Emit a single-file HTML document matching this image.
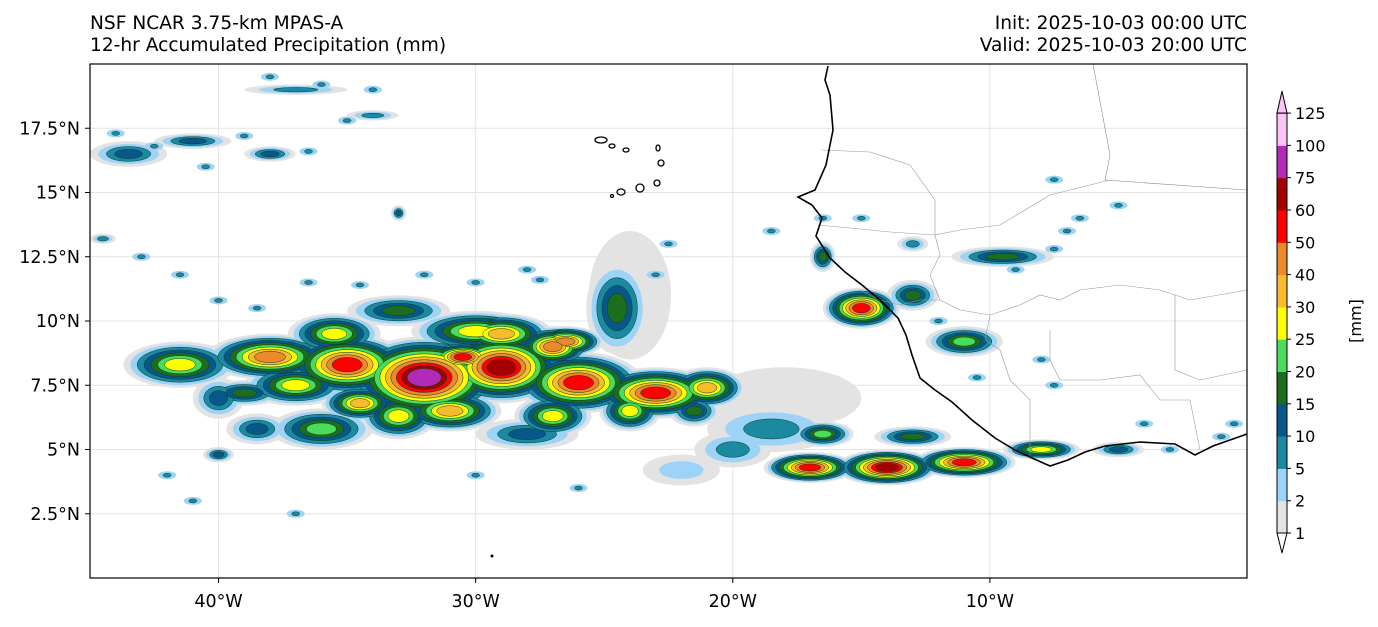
<!DOCTYPE html>
<html><head><meta charset="utf-8"><style>
body{margin:0;background:#fff;width:1378px;height:623px;overflow:hidden;font-family:"DejaVu Sans",sans-serif}
svg text{font-family:"DejaVu Sans","Liberation Sans",sans-serif;fill:#000}
</style></head><body>
<svg id="c" width="1378" height="623">
<text x="90" y="29" font-size="18.6">NSF NCAR 3.75-km MPAS-A</text>
<text x="90" y="51" font-size="18.6">12-hr Accumulated Precipitation (mm)</text>
<text x="1247" y="29" font-size="18.6" text-anchor="end">Init: 2025-10-03 00:00 UTC</text>
<text x="1247" y="51" font-size="18.6" text-anchor="end">Valid: 2025-10-03 20:00 UTC</text>
<defs><clipPath id="cp"><rect x="90" y="64" width="1157" height="514"/></clipPath></defs>
<g id="grid"></g>
<g id="precip" clip-path="url(#cp)"></g>
<g clip-path="url(#cp)">
<polyline fill="none" stroke="#888" stroke-width="0.6" points="1093,64 1110,155 1105,180 1247,190"/>
<polyline fill="none" stroke="#999" stroke-width="0.6" points="822,150 870,152 910,165 935,200 935,235 960,230 1000,225 1050,195 1110,180"/>
<polyline fill="none" stroke="#999" stroke-width="0.6" points="818,225 850,228 890,232 935,235 940,255 930,275 940,300 960,310 990,315 1020,305 1040,295 1060,300 1080,290 1120,285 1160,290 1190,300 1247,290"/>
<polyline fill="none" stroke="#999" stroke-width="0.6" points="860,290 880,300 900,305 920,300 940,300"/>
<polyline fill="none" stroke="#999" stroke-width="0.6" points="990,315 985,340 1000,350 1010,380 1030,400 1030,455"/>
<polyline fill="none" stroke="#999" stroke-width="0.6" points="1050,330 1050,360 1060,380 1100,380 1140,375 1160,400 1190,400 1200,450"/>
<polyline fill="none" stroke="#999" stroke-width="0.6" points="1175,295 1175,370 1200,380 1247,370"/>
<polyline fill="none" stroke="#000" stroke-width="1.6" points="828,66 825,80 830,95 833,130 826,165 815,190 798,197 812,205 822,218 816,236 830,258 845,272 862,285 880,300 898,318 906,335 912,355 920,378 935,390 952,402 972,420 995,438 1015,450 1032,458 1050,466 1068,460 1085,452 1105,446 1140,442 1175,444 1195,455 1213,446 1247,434"/>
<g fill="none" stroke="#000" stroke-width="1.3">
<ellipse cx="601" cy="140" rx="6" ry="3"/><ellipse cx="612" cy="146" rx="3" ry="2"/><ellipse cx="626" cy="150" rx="3" ry="2"/><ellipse cx="658" cy="148" rx="2" ry="3"/><ellipse cx="661" cy="163" rx="3" ry="3"/><ellipse cx="657" cy="183" rx="3" ry="3"/><ellipse cx="640" cy="188" rx="4" ry="4"/><ellipse cx="621" cy="192" rx="4" ry="3"/><circle cx="612" cy="196" r="1.5"/></g>
<circle cx="492" cy="556" r="1.5" fill="#000"/>
</g>
<rect x="90" y="64" width="1157" height="514" fill="none" stroke="#000" stroke-width="1.2"/>
<g id="axes"></g>
<g id="cbar"></g>
<text x="1361" y="321" font-size="16" text-anchor="middle" transform="rotate(-90 1361 321)">[mm]</text>
</svg>
<script>
const lonTicks=[40,30,20,10];
const latTicks=[2.5,5,7.5,10,12.5,15,17.5];
const levels=[1,2,5,10,15,20,25,30,40,50,60,75,100,125];
const colors=['#e3e3e3','#9dd3f7','#1b8aa0','#07578a','#1c6e1e','#4cdc5b','#ffff00','#f7bb2d','#ec8a2b','#ff0000','#a30000','#b02cb8','#fbc4f6'];
// blobs: lon(W), lat, rx deg, ry deg, max level index
const blobLon=[41.5,38,35,32,29,26,23,21,36,33,30,33,24.5,24,18,18.5,17,14,11,8,5,13,16.5,15,13,11,9.5,13,16.5,43.5,41,38,34,37,44.5,33,40,28,26.5,30.5,34.5,39,37,31,27,24,21.5,29,27,35.5,40,38.5,20,22];
const blobLat=[8.3,8.6,8.3,7.8,8.2,7.6,7.2,7.4,5.8,6.3,9.6,10.4,10.5,11,7,5.8,4.3,4.3,4.5,5,5,5.5,5.6,10.5,11,9.2,12.5,13,12.5,16.5,17,16.5,18,19,13.2,14.2,4.8,5.6,9.2,8.6,6.8,7.2,7.5,6.5,6.3,6.5,6.5,9.5,9,9.5,7,5.8,5,4.2];
const blobRx=[2.2,2.5,2.5,3,2.5,2.5,2.5,1.5,2,1.5,2.5,2,1.2,1.6,3,2.5,1.8,2,2,1.5,1,1.5,1.2,1.5,1,1.5,2,0.6,0.5,1.5,1.5,1,1,2,0.5,0.3,0.6,2,1.5,1.5,1.5,1.5,2,2,1.5,1.2,1,2,1.5,1.8,1,1.2,1.5,1.5];
const blobRy=[0.9,0.9,1.2,1.6,1.4,1.2,1.0,0.8,0.8,0.9,0.8,0.6,1.8,2.5,1.2,0.9,0.6,0.7,0.6,0.4,0.3,0.4,0.5,0.8,0.6,0.6,0.4,0.3,0.6,0.5,0.3,0.3,0.2,0.2,0.2,0.3,0.3,0.6,0.6,0.6,0.7,0.5,0.8,0.8,0.8,0.8,0.6,0.8,0.8,0.8,0.8,0.6,0.7,0.6];
const blobLvl=[6,8,9,11,10,9,9,7,5,6,6,4,4,0,0,2,9,10,9,6,3,4,5,9,4,5,4,2,4,3,3,3,2,2,2,3,3,3,8,9,7,4,6,7,6,6,4,7,8,6,3,3,2,1];
// small scattered cells
const speckLon=[44,42.5,40.5,39,36.5,35,38,36,34,43,41.5,40,38.5,36.5,34.5,32,30,28,27.5,23,22.5,18.5,9,7.5,7,5,6.5,15,16.5,7.5,12,10.5,8,7.5,4,3,1,0.5,42,41,37,30,26];
const speckLat=[17.3,16.8,16,17.2,16.6,17.8,19.5,19.2,19,12.5,11.8,10.8,10.5,11.5,11.4,11.8,11.5,12,11.6,11.8,13,13.5,12,12.8,13.5,14.5,14,14,14,15.5,10,7.8,8.5,7.5,6,5,5.5,6,4,3,2.5,4,3.5];
const X0=90,X1=1247,Y0=64,Y1=578;
const xs=w=>X0+(45-w)/45*(X1-X0);
const ys=l=>Y1-l/20*(Y1-Y0);
const NS='http://www.w3.org/2000/svg';
function mk(t,a,p){const e=document.createElementNS(NS,t);for(const k in a)e.setAttribute(k,a[k]);p.appendChild(e);return e;}
const grid=document.getElementById('grid'),axes=document.getElementById('axes');
lonTicks.forEach(w=>{
 const l=mk('line',{x1:xs(w),x2:xs(w),y1:Y0,y2:Y1,stroke:'#e4e4e4','stroke-width':1},grid);
 
 
 mk('line',{x1:xs(w),x2:xs(w),y1:Y1,y2:Y1+5,stroke:'#000'},axes);
 const t=mk('text',{x:xs(w),y:Y1+29,'font-size':17.5,'text-anchor':'middle'},axes);t.textContent=w+'°W';
 
 
});
latTicks.forEach(v=>{
 const l=mk('line',{x1:X0,x2:X1,y1:ys(v),y2:ys(v),stroke:'#e4e4e4','stroke-width':1},grid);
 
 
 mk('line',{x1:X0-5,x2:X0,y1:ys(v),y2:ys(v),stroke:'#000'},axes);
 const t=mk('text',{x:X0-10,y:ys(v)+6,'font-size':17.5,'text-anchor':'end'},axes);t.textContent=v+'°N';
 
 
});
const pg=document.getElementById('precip');const kx=(X1-X0)/45,ky=(Y1-Y0)/20;
for(let k=0;k<colors.length;k++){
 blobLon.forEach((w,i)=>{
  const m=blobLvl[i];if(k>m)return;
  const f=1-k/(m+1)*0.85;
  const e=mk('ellipse',{cx:xs(w),cy:ys(blobLat[i]),rx:blobRx[i]*kx*f,ry:blobRy[i]*ky*f,fill:colors[k],stroke:k>=2?'#0a3b2a':'none','stroke-width':0.5},pg);
  
  
 });
}
speckLon.forEach((w,i)=>{
 const a=mk('ellipse',{cx:xs(w),cy:ys(speckLat[i]),rx:9,ry:4,fill:colors[1]},pg);
 
 
 const b=mk('ellipse',{cx:xs(w),cy:ys(speckLat[i]),rx:4,ry:2,fill:colors[2],stroke:'#0a3b2a','stroke-width':0.5},pg);
 
 
});
const cb=document.getElementById('cbar');const cbx=1277,cbw=10,cby0=533,step=32.3;
colors.forEach((c,i)=>{
 const r=mk('rect',{x:cbx,y:cby0-(i+1)*step,width:cbw,height:step+0.5,fill:c},cb);
 
 
});
const cbTop=cby0-(levels.length-1)*step;
mk('polygon',{points:`${cbx},${cbTop} ${cbx+cbw},${cbTop} ${cbx+cbw/2},${cbTop-22}`,fill:colors[12],stroke:'#000'},cb);
mk('polygon',{points:`${cbx},${cby0} ${cbx+cbw},${cby0} ${cbx+cbw/2},${cby0+20}`,fill:'#fff',stroke:'#000'},cb);
mk('rect',{x:cbx,y:cbTop,width:cbw,height:cby0-cbTop,fill:'none',stroke:'#000'},cb);
levels.forEach((v,i)=>{
 const y=cby0-i*step;
 mk('line',{x1:cbx+cbw,x2:cbx+cbw+4,y1:y,y2:y,stroke:'#000'},cb);
 const t=mk('text',{x:cbx+cbw+8,y:y+6,'font-size':16},cb);t.textContent=v;
 
 
});
</script>
</body></html>
